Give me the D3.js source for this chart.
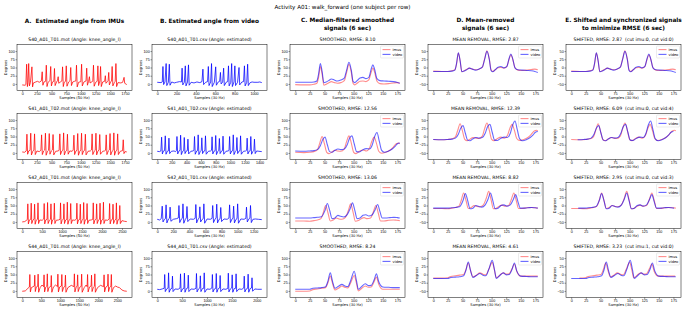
<!DOCTYPE html>
<html lang="en">
<head>
<meta charset="UTF-8">
<title>Activity A01: walk_forward</title>
<script src="https://cdn.jsdelivr.net/npm/d3@7/dist/d3.min.js"></script>
<style>
    body { margin: 0; background: #fff; }
    svg { font-family: "DejaVu Sans", sans-serif; }
    .axis text { font-size: 3.7px; fill: #000; }
    .axis line { stroke: #000; stroke-width: 0.4; }
    .axis path { display: none; }
    .frame { fill: none; stroke: #000; stroke-width: 0.5; }
    .ptitle { font-size: 4.6px; white-space: pre; }
    .alabel { font-size: 3.7px; }
    .head { font-size: 5.8px; font-weight: bold; }
    .leg text { font-size: 3.6px; }
    path.sig { fill: none; stroke-linejoin: round; }
</style>
</head>
<body>
<svg width="685" height="309"></svg>
<script>
    // ---- data ----
    var subjects = ['S40_A01_T01', 'S41_A01_T02', 'S42_A01_T01', 'S44_A01_T01'];
    var imuLength = [1780, 1780, 2620, 2750];
    var vidLength = [1080, 1430, 1300, 2100];
    var imuTicks = [
        [0, 250, 500, 750, 1000, 1250, 1500, 1750],
        [0, 250, 500, 750, 1000, 1250, 1500, 1750],
        [0, 500, 1000, 1500, 2000, 2500],
        [0, 500, 1000, 1500, 2000, 2500]
    ];
    var vidTicks = [
        [0, 200, 400, 600, 800, 1000],
        [0, 200, 400, 600, 800, 1000, 1200, 1400],
        [0, 200, 400, 600, 800, 1000, 1200],
        [0, 500, 1000, 1500, 2000]
    ];
    var winTicks = [0, 25, 50, 75, 100, 125, 150, 175];
    var rawYTicks = [0, 25, 50, 75, 100];
    var centYTicks = [-50, -25, 0, 25, 50];
    var rmseSmooth = ['8.10', '12.56', '13.06', '8.24'];
    var rmseMean = ['2.87', '12.39', '8.82', '4.61'];
    var rmseShift = ['2.87', '6.09', '2.95', '3.23'];
    var cutImu = [0, 0, 0, 1];
    var cutVid = [0, 4, 3, 0];

    // raw signals, [sample, degrees]
    var imuRawS40 = [[0,-3],[50,-4],[62,-2],[75,60],[88,-8],[98,4],[110,62],[122,-6],[140,5],[165,52],[176,-9],[190,3],[230,6],[260,8],[290,5],[325,9],[340,37],[352,-4],[370,6],[398,8],[410,57],[422,-8],[440,5],[472,10],[485,53],[497,-6],[515,6],[538,8],[549,47],[560,-5],[585,6],[600,10],[612,22],[622,2],[650,6],[675,9],[687,52],[699,-8],[715,5],[738,8],[750,55],[762,-7],[790,6],[814,10],[826,50],[838,-5],[860,6],[890,8],[912,9],[924,57],[936,-9],[960,5],[998,7],[1011,60],[1023,-6],[1050,6],[1086,9],[1098,48],[1110,-4],[1130,8],[1144,22],[1155,3],[1185,6],[1201,9],[1213,57],[1225,-7],[1250,5],[1276,8],[1288,55],[1300,-5],[1322,9],[1334,53],[1346,-8],[1370,6],[1403,8],[1415,25],[1426,2],[1450,7],[1462,10],[1473,35],[1484,-3],[1505,6],[1520,9],[1531,53],[1543,-6],[1570,5],[1583,8],[1595,62],[1607,-8],[1630,4],[1680,3],[1710,5],[1734,20],[1745,2],[1780,-2]];
    var vidRawS40 = [[0,5],[40,4],[52,6],[59,53],[66,-2],[80,6],[92,62],[99,-5],[115,5],[125,60],[132,-4],[150,6],[175,3],[200,5],[230,7],[250,6],[257,48],[264,-3],[280,5],[290,55],[297,-6],[313,6],[323,58],[330,-4],[350,5],[380,3],[410,6],[440,4],[462,7],[472,45],[479,-2],[500,5],[520,7],[528,53],[535,-5],[552,6],[561,62],[568,-8],[590,5],[604,52],[611,-4],[630,6],[645,8],[653,35],[660,0],[676,6],[686,48],[693,-5],[715,6],[728,7],[736,55],[743,-6],[760,5],[769,62],[776,-8],[793,6],[802,55],[809,-5],[830,5],[845,50],[852,-3],[875,6],[892,7],[901,55],[908,-6],[925,5],[934,60],[941,-5],[960,4],[980,6],[1000,5],[1040,5],[1060,6],[1080,4]];
    var imuRawS41 = [[0,3],[40,2],[68,6],[80,57],[92,-4],[110,6],[133,8],[145,60],[157,-6],[180,5],[198,9],[210,58],[222,-5],[250,6],[290,4],[318,8],[330,55],[342,-5],[365,6],[383,9],[395,60],[407,-7],[430,5],[448,8],[460,59],[472,-4],[495,6],[513,9],[525,56],[537,-6],[570,5],[610,6],[628,8],[640,58],[652,-5],[675,6],[693,9],[705,61],[717,-6],[740,5],[758,8],[770,57],[782,-4],[810,6],[850,5],[868,9],[880,54],[892,-5],[915,6],[933,8],[945,59],[957,-7],[980,5],[998,9],[1010,60],[1022,-5],[1045,6],[1063,8],[1075,57],[1087,-6],[1120,5],[1160,6],[1178,9],[1190,58],[1202,-5],[1225,5],[1243,8],[1255,60],[1267,-6],[1290,6],[1308,9],[1320,56],[1332,-4],[1370,5],[1400,6],[1418,8],[1430,55],[1442,-5],[1465,6],[1483,9],[1495,59],[1507,-6],[1530,5],[1548,8],[1560,61],[1572,-7],[1595,6],[1613,9],[1625,58],[1637,-5],[1670,5],[1708,7],[1720,40],[1732,-2],[1750,4],[1780,3]];
    var vidRawS41 = [[0,5],[30,4],[50,6],[60,48],[70,-3],[85,6],[100,7],[110,52],[120,-4],[138,5],[152,6],[160,45],[170,-2],[195,5],[230,6],[250,4],[262,7],[270,50],[280,-3],[298,6],[312,8],[320,54],[330,-5],[348,5],[362,7],[370,47],[380,-2],[398,6],[412,7],[420,42],[430,-3],[460,5],[490,6],[502,8],[510,50],[520,-4],[540,6],[552,7],[560,55],[570,-5],[590,5],[602,8],[610,46],[620,-2],[640,6],[652,7],[660,52],[670,-4],[700,5],[730,6],[742,8],[750,49],[760,-3],[780,6],[792,7],[800,53],[810,-5],[830,5],[842,8],[850,44],[860,-2],[880,6],[892,7],[900,51],[910,-4],[940,5],[970,6],[982,8],[990,50],[1000,-3],[1020,6],[1032,7],[1040,55],[1050,-5],[1070,5],[1082,8],[1090,47],[1100,-2],[1120,6],[1132,7],[1140,52],[1150,-4],[1180,5],[1210,6],[1222,8],[1230,45],[1240,-3],[1260,6],[1272,7],[1280,50],[1290,-4],[1310,5],[1322,8],[1330,42],[1340,-2],[1360,6],[1390,5],[1430,4]];
    var imuRawS42 = [[0,0],[60,1],[110,5],[128,8],[140,55],[154,-6],[180,6],[213,8],[225,57],[239,-5],[270,6],[298,9],[310,54],[324,-7],[350,5],[383,8],[395,58],[409,-5],[440,6],[500,5],[538,9],[550,56],[564,-6],[590,6],[623,8],[635,59],[649,-5],[680,5],[708,8],[720,55],[734,-7],[760,6],[793,9],[805,57],[819,-5],[850,5],[910,6],[948,8],[960,58],[974,-6],[1000,5],[1033,9],[1045,55],[1059,-5],[1090,6],[1118,8],[1130,60],[1144,-7],[1170,5],[1203,8],[1215,56],[1229,-5],[1260,6],[1320,5],[1358,9],[1370,57],[1384,-6],[1410,6],[1443,8],[1455,54],[1469,-5],[1500,5],[1528,9],[1540,59],[1554,-7],[1580,6],[1613,8],[1625,56],[1639,-5],[1670,5],[1730,6],[1768,8],[1780,58],[1794,-6],[1820,5],[1853,9],[1865,55],[1879,-5],[1910,6],[1938,8],[1950,57],[1964,-7],[1990,5],[2023,8],[2035,60],[2049,-5],[2080,6],[2140,5],[2178,9],[2190,56],[2204,-6],[2230,6],[2263,8],[2275,54],[2289,-5],[2320,5],[2348,9],[2360,58],[2374,-7],[2400,6],[2433,8],[2445,50],[2459,-5],[2500,4],[2560,2],[2620,1]];
    var vidRawS42 = [[0,8],[30,6],[50,10],[62,48],[72,0],[90,8],[102,10],[110,52],[120,-3],[140,9],[152,11],[160,45],[170,2],[200,8],[240,10],[262,12],[270,50],[280,-2],[300,9],[312,11],[320,55],[330,-4],[350,8],[362,12],[370,47],[380,1],[410,9],[450,8],[472,11],[480,53],[490,-3],[510,9],[522,12],[530,46],[540,0],[560,8],[572,10],[580,55],[590,-4],[620,9],[660,8],[682,11],[690,50],[700,-2],[720,9],[732,12],[740,54],[750,-3],[770,8],[782,10],[790,44],[800,1],[830,9],[870,8],[892,12],[900,52],[910,-2],[930,9],[942,11],[950,48],[960,-3],[980,8],[992,10],[1000,55],[1010,-4],[1040,9],[1080,8],[1102,11],[1110,45],[1120,0],[1140,9],[1152,12],[1160,50],[1170,-2],[1190,8],[1220,9],[1260,8],[1300,7]];
    var imuRawS44 = [[0,-1],[80,0],[150,8],[188,12],[200,50],[214,-3],[240,10],[318,15],[330,48],[344,-2],[370,12],[406,14],[418,51],[432,-4],[470,10],[520,18],[562,13],[574,49],[588,-3],[620,12],[648,15],[660,52],[674,-2],[700,10],[753,14],[765,47],[779,-4],[820,12],[880,18],[926,13],[938,51],[952,-3],[985,12],[1030,15],[1042,50],[1056,-2],[1090,11],[1125,14],[1137,48],[1151,-4],[1200,10],[1290,17],[1360,13],[1372,52],[1386,-3],[1420,12],[1446,15],[1458,49],[1472,-2],[1510,11],[1551,14],[1563,51],[1577,-4],[1630,10],[1680,18],[1707,13],[1719,50],[1733,-3],[1770,12],[1811,15],[1823,48],[1837,-2],[1870,11],[1898,14],[1910,52],[1924,-4],[1980,10],[2060,17],[2141,13],[2153,49],[2167,-3],[2200,12],[2245,15],[2257,51],[2271,-2],[2300,11],[2332,14],[2344,50],[2358,-4],[2400,10],[2460,15],[2500,12],[2560,10],[2620,3],[2680,0],[2750,-1]];
    var vidRawS44 = [[0,5],[50,4],[100,6],[140,8],[150,50],[162,-2],[190,6],[218,9],[228,55],[240,-4],[268,6],[296,8],[306,45],[318,-2],[360,6],[420,5],[458,9],[468,52],[480,-3],[508,6],[536,8],[546,54],[558,-4],[586,7],[614,9],[624,48],[636,-2],[680,6],[740,5],[778,8],[788,53],[800,-3],[828,6],[856,9],[866,46],[878,-2],[906,7],[934,8],[944,55],[956,-4],[1000,6],[1060,5],[1098,9],[1108,50],[1120,-3],[1148,6],[1176,8],[1186,53],[1198,-4],[1226,7],[1254,9],[1264,47],[1276,-2],[1320,6],[1380,5],[1418,8],[1428,54],[1440,-3],[1468,6],[1496,9],[1506,49],[1518,-4],[1546,7],[1574,8],[1584,52],[1596,-2],[1640,6],[1700,5],[1738,9],[1748,45],[1760,-3],[1788,6],[1816,8],[1826,51],[1838,-4],[1866,7],[1894,9],[1904,40],[1916,-1],[1960,6],[2020,5],[2100,5]];

    // 6 s windows, median-filtered
    var imuSmoothS40 = [[0,-2],[15,-3],[25,-3],[32,-1],[37,2],[40,20],[43,53],[46,30],[49,-4],[53,-1],[57,3],[62,7],[67,4],[72,2],[78,4],[84,10],[88,35],[92,60],[96,35],[99,2],[102,-3],[106,2],[111,8],[116,9],[121,7],[126,12],[130,35],[133,48],[136,35],[140,8],[145,1],[152,0],[160,1],[168,3],[174,4],[179,2]];
    var vidSmoothS40 = [[0,5],[15,5],[25,5],[32,6],[37,9],[40,30],[43,62],[46,38],[49,4],[53,6],[57,10],[62,15],[67,12],[72,9],[78,12],[84,18],[88,42],[92,66],[96,42],[99,8],[102,4],[106,10],[111,18],[116,20],[121,16],[126,20],[130,45],[133,58],[136,44],[140,16],[145,10],[152,9],[160,8],[168,7],[174,5],[179,2]];
    var imuSmoothS41 = [[0,2],[15,1],[25,2],[32,4],[38,10],[42,30],[46,50],[50,28],[54,2],[58,-2],[63,3],[68,8],[73,6],[78,5],[84,12],[88,35],[92,52],[96,30],[100,2],[104,-2],[110,5],[116,9],[122,6],[127,14],[131,35],[135,48],[139,30],[143,5],[148,-1],[155,2],[162,8],[168,18],[173,28],[177,30],[179,28]];
    var vidSmoothS41 = [[0,6],[15,5],[25,6],[32,7],[38,10],[43,22],[47,40],[51,48],[55,25],[59,4],[63,2],[68,8],[73,12],[78,10],[84,12],[89,25],[93,45],[97,52],[101,28],[105,4],[110,3],[116,10],[122,13],[127,12],[132,25],[136,50],[140,62],[144,35],[148,8],[153,2],[160,6],[166,12],[171,20],[175,28],[179,30]];
    var imuSmoothS42 = [[0,3],[15,3],[25,2],[32,4],[38,6],[44,10],[48,28],[52,50],[56,28],[60,3],[65,6],[70,12],[75,9],[80,8],[86,14],[91,35],[95,55],[99,30],[103,2],[108,4],[113,10],[118,13],[123,10],[129,12],[134,32],[138,50],[142,28],[146,3],[152,3],[160,5],[168,6],[174,5],[179,4]];
    var vidSmoothS42 = [[0,12],[15,12],[25,12],[32,13],[38,14],[45,16],[51,35],[55,56],[59,35],[63,10],[68,12],[73,20],[78,17],[83,15],[89,22],[94,40],[98,58],[102,35],[106,10],[111,12],[116,20],[121,22],[126,18],[132,22],[137,38],[141,53],[145,32],[149,12],[155,12],[162,13],[169,14],[175,13],[179,12]];
    var imuSmoothS44 = [[0,-1],[15,-1],[25,0],[30,4],[38,6],[45,8],[52,10],[56,25],[60,45],[64,22],[68,3],[74,8],[80,15],[85,11],[90,9],[95,25],[101,47],[105,22],[108,0],[114,8],[120,15],[125,11],[130,12],[135,28],[139,42],[143,20],[150,5],[160,5],[170,5],[179,5]];
    var vidSmoothS44 = [[0,5],[15,5],[25,5],[30,8],[38,9],[45,10],[52,13],[56,30],[60,55],[64,28],[68,8],[74,14],[80,20],[85,15],[90,13],[95,32],[101,60],[105,30],[108,5],[114,14],[120,22],[125,16],[130,17],[135,33],[139,52],[143,28],[150,12],[160,11],[170,10],[179,10]];

    // same windows after mean removal
    var imuCentS40 = [[0,-11],[15,-12],[25,-12],[32,-10],[37,-7],[40,11],[43,44],[46,21],[49,-13],[53,-10],[57,-6],[62,-2],[67,-5],[72,-7],[78,-5],[84,1],[88,26],[92,51],[96,26],[99,-7],[102,-12],[106,-7],[111,-1],[116,0],[121,-2],[126,3],[130,26],[133,39],[136,26],[140,-1],[145,-8],[152,-9],[160,-8],[168,-6],[174,-5],[179,-7]];
    var vidCentS40 = [[0,-12],[15,-12],[25,-12],[32,-11],[37,-8],[40,13],[43,45],[46,21],[49,-13],[53,-11],[57,-7],[62,-2],[67,-5],[72,-8],[78,-5],[84,1],[88,25],[92,49],[96,25],[99,-9],[102,-13],[106,-7],[111,1],[116,3],[121,-1],[126,3],[130,28],[133,41],[136,27],[140,-1],[145,-7],[152,-8],[160,-9],[168,-10],[174,-12],[179,-15]];
    var imuCentS41 = [[0,-9],[15,-10],[25,-9],[32,-7],[38,-1],[42,19],[46,39],[50,17],[54,-9],[58,-13],[63,-8],[68,-3],[73,-5],[78,-6],[84,1],[88,24],[92,41],[96,19],[100,-9],[104,-13],[110,-6],[116,-2],[122,-5],[127,3],[131,24],[135,37],[139,19],[143,-6],[148,-12],[155,-9],[162,-3],[168,7],[173,17],[177,19],[179,17]];
    var vidCentS41 = [[0,-9],[15,-10],[25,-9],[32,-8],[38,-5],[43,7],[47,25],[51,33],[55,10],[59,-11],[63,-13],[68,-7],[73,-3],[78,-5],[84,-3],[89,10],[93,30],[97,37],[101,13],[105,-11],[110,-12],[116,-5],[122,-2],[127,-3],[132,10],[136,35],[140,47],[144,20],[148,-7],[153,-13],[160,-9],[166,-3],[171,5],[175,13],[179,15]];
    var imuCentS42 = [[0,-9],[15,-9],[25,-10],[32,-8],[38,-6],[44,-2],[48,16],[52,38],[56,16],[60,-9],[65,-6],[70,0],[75,-3],[80,-4],[86,2],[91,23],[95,43],[99,18],[103,-10],[108,-8],[113,-2],[118,1],[123,-2],[129,0],[134,20],[138,38],[142,16],[146,-9],[152,-9],[160,-7],[168,-6],[174,-7],[179,-8]];
    var vidCentS42 = [[0,-8],[15,-8],[25,-8],[32,-7],[38,-6],[45,-4],[51,15],[55,36],[59,15],[63,-10],[68,-8],[73,0],[78,-3],[83,-5],[89,2],[94,20],[98,38],[102,15],[106,-10],[111,-8],[116,0],[121,2],[126,-2],[132,2],[137,18],[141,33],[145,12],[149,-8],[155,-8],[162,-7],[169,-6],[175,-7],[179,-8]];
    var imuCentS44 = [[0,-11],[15,-11],[25,-10],[30,-6],[38,-4],[45,-2],[52,0],[56,15],[60,35],[64,12],[68,-7],[74,-2],[80,5],[85,1],[90,-1],[95,15],[101,37],[105,12],[108,-10],[114,-2],[120,5],[125,1],[130,2],[135,18],[139,32],[143,10],[150,-5],[160,-5],[170,-5],[179,-5]];
    var vidCentS44 = [[0,-12],[15,-12],[25,-12],[30,-9],[38,-8],[45,-7],[52,-4],[56,13],[60,38],[64,11],[68,-9],[74,-3],[80,3],[85,-2],[90,-4],[95,15],[101,43],[105,13],[108,-12],[114,-3],[120,5],[125,-1],[130,0],[135,16],[139,35],[143,11],[150,-5],[160,-6],[170,-7],[179,-7]];

    var imuRaw = [imuRawS40, imuRawS41, imuRawS42, imuRawS44];
    var vidRaw = [vidRawS40, vidRawS41, vidRawS42, vidRawS44];
    var imuSmooth = [imuSmoothS40, imuSmoothS41, imuSmoothS42, imuSmoothS44];
    var vidSmooth = [vidSmoothS40, vidSmoothS41, vidSmoothS42, vidSmoothS44];
    var imuCent = [imuCentS40, imuCentS41, imuCentS42, imuCentS44];
    var vidCent = [vidCentS40, vidCentS41, vidCentS42, vidCentS44];

    // ---- layout ----
    var svg = d3.select('svg'),
        colLeft = [17, 152, 290, 428, 566],
        rowTop = [44.5, 113.5, 182.5, 251.5],
        plotW = 115,
        plotH = 46,
        imuColor = 'rgba(255,0,0,0.45)',
        vidColor = 'rgba(0,0,255,0.6)';

    svg.append('text')
        .attr('x', 342.5).attr('y', 7).attr('dy', '0.35em')
        .attr('text-anchor', 'middle')
        .style('font-size', '5.6px')
        .text('Activity A01: walk_forward (one subject per row)');

    var heads = [
        ['A.  Estimated angle from IMUs'],
        ['B. Estimated angle from video'],
        ['C. Median-filtered smoothed', 'signals (6 sec)'],
        ['D. Mean-removed', 'signals (6 sec)'],
        ['E. Shifted and synchronized signals', 'to minimize RMSE (6 sec)']
    ];
    heads.forEach(function(lines, i) {
        var y0 = lines.length == 1 ? 21 : 19.5;
        lines.forEach(function(t, j) {
            svg.append('text')
                .classed('head', true)
                .attr('x', colLeft[i] + plotW / 2)
                .attr('y', y0 + j * 8.5)
                .attr('dy', '0.35em')
                .attr('text-anchor', 'middle')
                .style('white-space', 'pre')
                .text(t);
        });
    });

    function panel(col, row, cfg) {
        var x = d3.scaleLinear().domain(cfg.xDomain).range([0, plotW]),
            y = d3.scaleLinear().domain(cfg.yDomain).range([plotH, 0]),
            g = svg.append('g')
                .attr('transform', 'translate(' + [colLeft[col], rowTop[row]] + ')');

        g.append('g')
            .classed('axis', true)
            .attr('transform', 'translate(' + [0, plotH] + ')')
            .call(d3.axisBottom(x).tickValues(cfg.xTicks).tickFormat(d3.format('d'))
                .tickSize(1.5).tickPadding(0.8));

        g.append('g')
            .classed('axis', true)
            .call(d3.axisLeft(y).tickValues(cfg.yTicks).tickFormat(d3.format('d'))
                .tickSize(1.5).tickPadding(0.8));

        cfg.series.forEach(function(s) {
            var cut = s.cut || 0;
            var ln = d3.line()
                .x(function(d) { return x(d[0] - cut); })
                .y(function(d) { return y(d[1]); })
                .curve(s.smooth ? d3.curveMonotoneX : d3.curveLinear);
            var pts = s.data.filter(function(d) { return d[0] - cut >= 0; });
            g.append('path')
                .classed('sig', true)
                .attr('stroke', s.color)
                .attr('stroke-width', s.width)
                .attr('d', ln(pts));
        });

        g.append('rect')
            .classed('frame', true)
            .attr('width', plotW)
            .attr('height', plotH);

        g.append('text')
            .classed('ptitle', true)
            .attr('x', plotW / 2).attr('y', -3.4)
            .attr('text-anchor', 'middle')
            .text(cfg.title);

        g.append('text')
            .classed('alabel', true)
            .attr('x', plotW / 2).attr('y', plotH + 8.6)
            .attr('text-anchor', 'middle')
            .text(cfg.xLabel);

        g.append('text')
            .classed('alabel', true)
            .attr('transform', 'translate(' + [-10.5, plotH / 2] + ') rotate(-90)')
            .attr('text-anchor', 'middle')
            .text('Degrees');

        if (cfg.legend) {
            var lg = g.append('g')
                .classed('leg', true)
                .attr('transform', 'translate(' + [plotW - 24.5, 1.5] + ')');
            lg.append('rect')
                .attr('width', 23).attr('height', 12).attr('rx', 1)
                .attr('fill', 'rgba(255,255,255,0.8)')
                .attr('stroke', '#d0d0d0').attr('stroke-width', 0.4);
            [['imus', imuColor], ['video', vidColor]].forEach(function(e, k) {
                lg.append('line')
                    .attr('x1', 2).attr('x2', 10)
                    .attr('y1', 3.6 + k * 4.8).attr('y2', 3.6 + k * 4.8)
                    .attr('stroke', e[1]).attr('stroke-width', 1.1);
                lg.append('text')
                    .attr('x', 12).attr('y', 3.6 + k * 4.8)
                    .attr('dy', '0.35em')
                    .text(e[0]);
            });
        }
    }

    function pad(n) {
        return [-0.05 * n, n * 1.05];
    }

    subjects.forEach(function(s, r) {
        panel(0, r, {
            xDomain: pad(imuLength[r]), yDomain: [-20, 120],
            xTicks: imuTicks[r], yTicks: rawYTicks,
            title: s + '.mot (Angle: knee_angle_l)', xLabel: 'Samples (50 Hz)',
            series: [{data: imuRaw[r], color: 'red', width: 0.75}]
        });
        panel(1, r, {
            xDomain: pad(vidLength[r]), yDomain: [-20, 120],
            xTicks: vidTicks[r], yTicks: rawYTicks,
            title: s + '.csv (Angle: estimated)', xLabel: 'Samples (30 Hz)',
            series: [{data: vidRaw[r], color: 'blue', width: 0.75}]
        });
        panel(2, r, {
            xDomain: pad(179), yDomain: [-20, 120],
            xTicks: winTicks, yTicks: rawYTicks,
            title: 'SMOOTHED, RMSE: ' + rmseSmooth[r], xLabel: 'Samples (30 Hz)', legend: true,
            series: [
                {data: imuSmooth[r], color: imuColor, width: 1.1, smooth: true},
                {data: vidSmooth[r], color: vidColor, width: 1.1, smooth: true}
            ]
        });
        panel(3, r, {
            xDomain: pad(179), yDomain: [-70, 70],
            xTicks: winTicks, yTicks: centYTicks,
            title: 'MEAN REMOVAL, RMSE: ' + rmseMean[r], xLabel: 'Samples (30 Hz)', legend: true,
            series: [
                {data: imuCent[r], color: imuColor, width: 1.1, smooth: true},
                {data: vidCent[r], color: vidColor, width: 1.1, smooth: true}
            ]
        });
        panel(4, r, {
            xDomain: pad(179), yDomain: [-70, 70],
            xTicks: winTicks, yTicks: centYTicks,
            title: 'SHIFTED, RMSE: ' + rmseShift[r] + '  (cut imu:' + cutImu[r] + ', cut vid:' + cutVid[r] + ')',
            xLabel: 'Samples (30 Hz)', legend: true,
            series: [
                {data: imuCent[r], cut: cutImu[r], color: imuColor, width: 1.1, smooth: true},
                {data: vidCent[r], cut: cutVid[r], color: vidColor, width: 1.1, smooth: true}
            ]
        });
    });
</script>
</body>
</html>
